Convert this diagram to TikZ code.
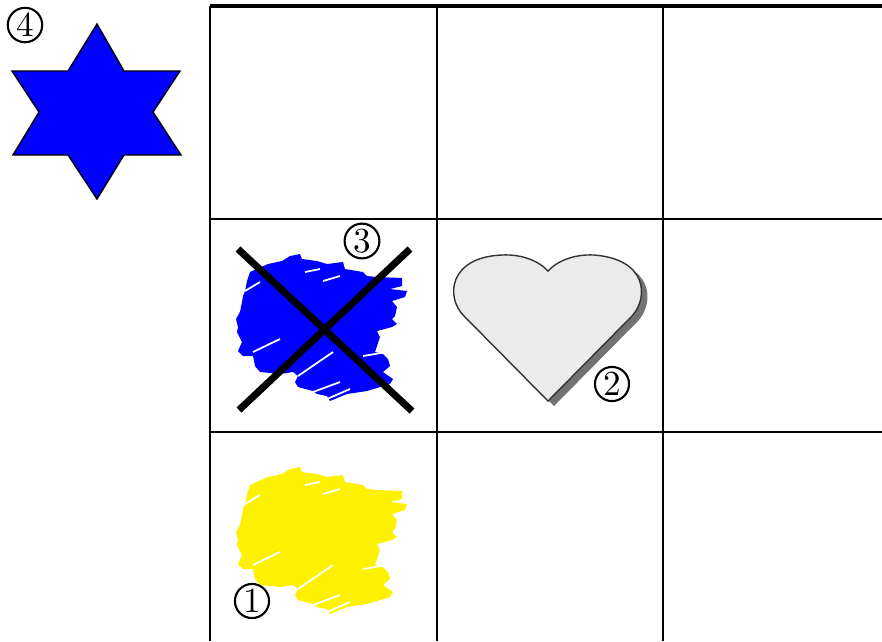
\documentclass[tikz,border=0pt]{standalone}
\usepackage{amsmath}
\usepackage{tikz}

\begin{document}
\begin{tikzpicture}[x=0.01cm, y=-0.01cm,
  circnum/.style={circle, draw, line width=0.6pt, inner sep=0.5pt, minimum size=0.33cm},
  gridline/.style={line width=0.6pt},
  cross/.style={line width=2pt},
  scribble/.pic={
    \fill[pic actions] (37,62) -- (40,53) -- (58,45) -- (72,42) -- (80,37) -- (90,35) -- (92,40) -- (107,42)
      -- (117,45) -- (133,43) -- (135,50) -- (153,53) -- (157,57) -- (167,58) -- (192,59) -- (192,67)
      -- (180,70) -- (197,72) -- (195,78) -- (182,82) -- (187,88) -- (185,97) -- (182,100) -- (187,105)
      -- (182,108) -- (167,112) -- (170,118) -- (167,127) -- (165,133) -- (173,135) -- (178,140)
      -- (180,147) -- (173,153) -- (183,160) -- (180,165) -- (157,172) -- (137,175) -- (120,182)
      -- (117,177) -- (107,175) -- (103,172) -- (88,168) -- (85,163) -- (88,157) -- (83,153) -- (70,155)
      -- (50,153) -- (45,147) -- (43,137) -- (33,137) -- (28,132) -- (32,123) -- (27,113) -- (28,108)
      -- (26,100) -- (30,93) -- (32,83) -- (33,77) -- (35,72) -- cycle;
    \foreach \xa/\ya/\xb/\yb in {43/133/70/120, 88/157/123/133, 103/173/130/163, 117/180/140/170,
                                 153/137/177/133, 95/53/110/50, 113/62/130/57, 35/72/50/63}
      \draw[white, line width=0.5pt] (\xa,\ya) -- (\xb,\yb);
  }]
\useasboundingbox (0,0) rectangle (882,641);

% the grid, open at right and bottom
\draw[line width=1.1pt] (210,6) -- (882,6);
\draw[gridline] (210,6) -- (210,641);
\draw[gridline] (437,6) -- (437,641);
\draw[gridline] (663,6) -- (663,641);
\draw[gridline] (210,219) -- (882,219);
\draw[gridline] (210,432) -- (882,432);

% star outside the grid
\filldraw[fill=blue, draw=black, line width=0.4pt] (97,24) -- (124,71) -- (180,71) -- (153,112) -- (181,155)
  -- (124,155) -- (97,199) -- (68,155) -- (13,155) -- (39,112) -- (12,71) -- (68,71) -- cycle;
\node[name=num_4, circnum] at (25,25) {4};

% crossed out blue patch
\pic[fill=blue] at (210,219) {scribble};
\draw[cross] (238,249) -- (412,411);
\draw[cross] (410,249) -- (239,410);
\node[name=num_3, circnum] at (362,241) {3};

% heart with its shadow
\begin{scope}[shift={(437,219)}]
\fill[black!55] (117,187) -- (33,102) .. controls (14,83) and (18,43) .. (71,41) .. controls (91,40) and (108,47) .. (117,57)
  .. controls (126,47) and (143,40) .. (163,41) .. controls (216,45) and (218,83) .. (201,102) -- cycle;
\filldraw[fill=black!8, draw=black!80, line width=0.4pt] (111,182) -- (27,97) .. controls (8,78) and (12,38) .. (65,36)
  .. controls (85,35) and (102,42) .. (111,52) .. controls (120,42) and (137,35) .. (157,36)
  .. controls (210,40) and (212,78) .. (195,97) -- cycle;
\end{scope}
\node[name=num_2, circnum] at (612,384) {2};

% yellow patch
\pic[fill=yellow] at (210,432) {scribble};
\node[name=num_1, circnum] at (252,601) {1};
\end{tikzpicture}
\end{document}
